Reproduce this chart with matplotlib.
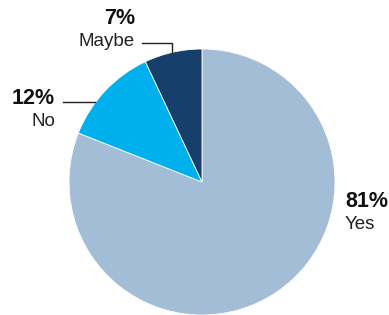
import matplotlib.pyplot as plt

labels = ['Yes', 'No', 'Maybe']
values = [81, 12, 7]
colors = ['#a3bdd6', '#00b0ec', '#163f6b']

W, H = 389, 315

fig = plt.figure(figsize=(W / 100, H / 100), dpi=100)
ax = fig.add_axes([0, 0, 1, 1])

# pie starts at 12 o'clock, goes clockwise
ax.pie(values, colors=colors, startangle=90, counterclock=False,
       center=(202, H - 182), radius=133,
       wedgeprops=dict(edgecolor='white', linewidth=0.6))

# pie() sets its own limits, so set them afterwards
ax.set_xlim(0, W)
ax.set_ylim(0, H)
ax.set_aspect('equal')
ax.axis('off')

font = 'Liberation Sans'

def label(x, y_pct, y_lbl, pct, name, ha):
    ax.text(x, H - y_pct, f'{pct}%', ha=ha, va='baseline', fontsize=15.5,
            fontweight='bold', family=font, color='#111111')
    ax.text(x, H - y_lbl, name, ha=ha, va='baseline', fontsize=13.5,
            family=font, color='#222222')

label(345, 207, 229, values[0], labels[0], 'left')
label(55, 104, 126, values[1], labels[1], 'right')
label(135, 24, 46, values[2], labels[2], 'right')

# leader lines
ax.plot([63, 95], [H - 102, H - 102], color='#222222', lw=1)
ax.plot([142, 172, 172], [H - 43, H - 43, H - 53], color='#222222', lw=1)

fig.savefig('out.png', dpi=100)
